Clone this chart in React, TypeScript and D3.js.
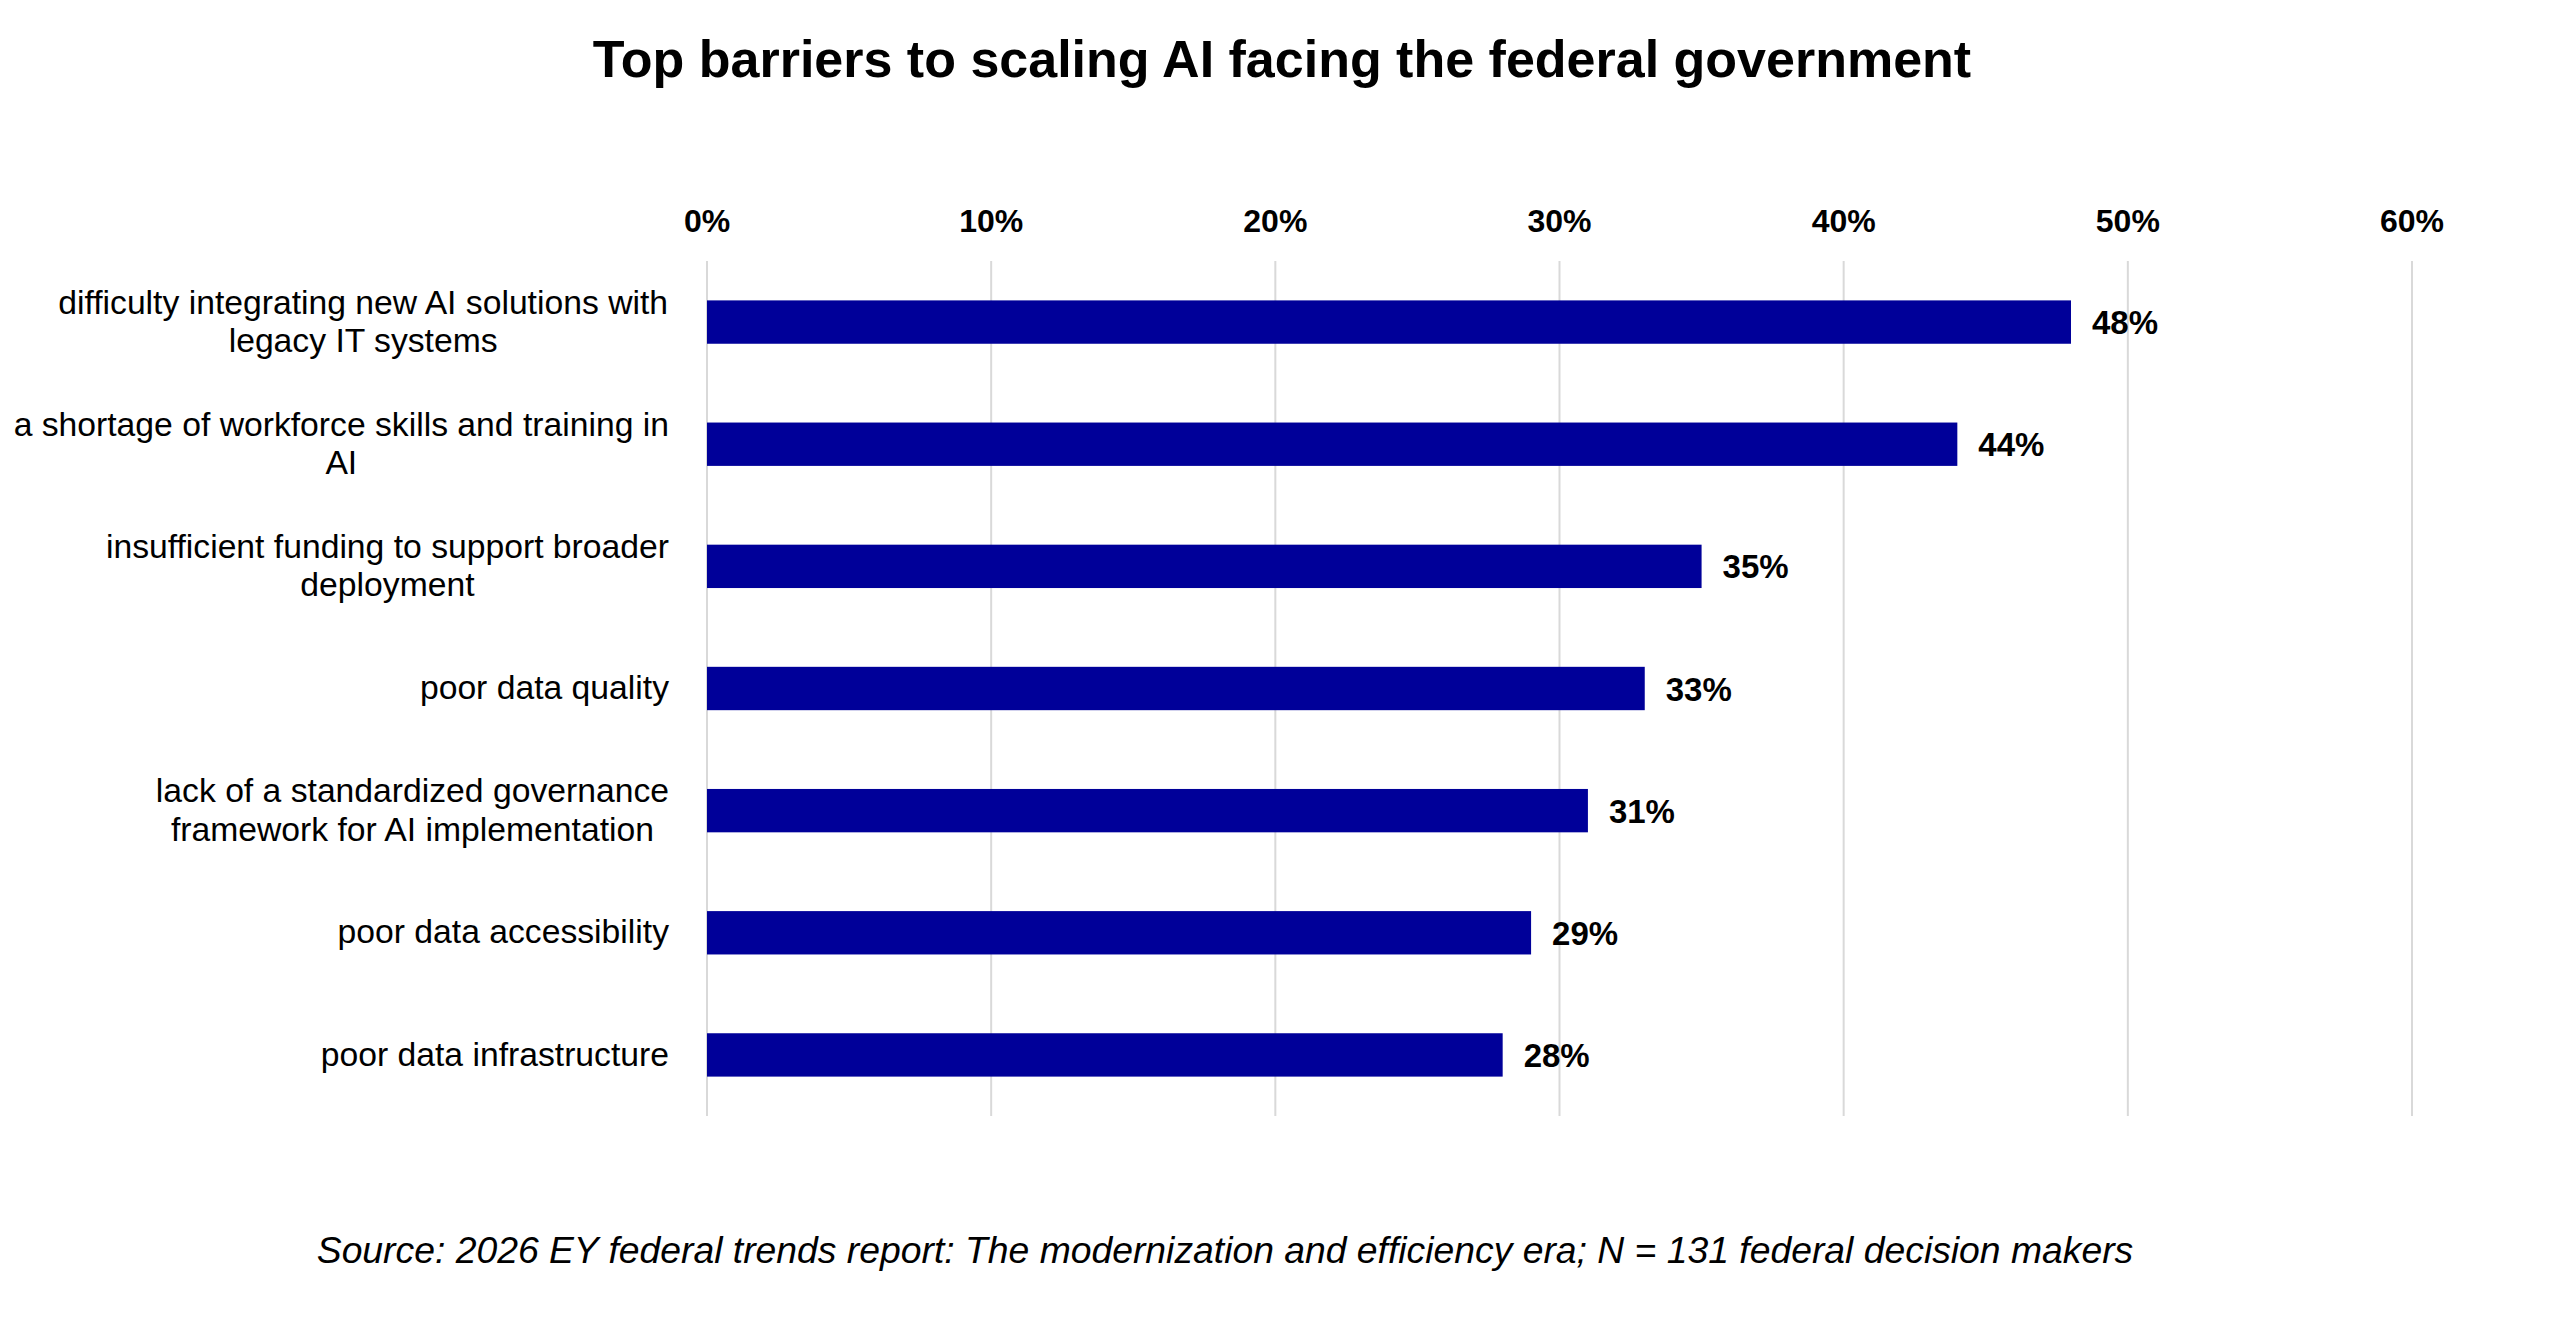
import React, { useMemo } from "react";
import * as d3 from "d3";

// chart data
const categories = [
  "difficulty integrating new AI solutions with\nlegacy IT systems",
  "a shortage of workforce skills and training in\nAI",
  "insufficient funding to support broader\ndeployment",
  "poor data quality",
  "lack of a standardized governance\nframework for AI implementation",
  "poor data accessibility",
  "poor data infrastructure",
];
const values = [48, 44, 35, 33, 31, 29, 28];
const xTicks = [0, 10, 20, 30, 40, 50, 60];

const title = "Top barriers to scaling AI facing the federal government";
const source =
  "Source: 2026 EY federal trends report: The modernization and efficiency era; N = 131 federal decision makers";

const FONT = "'Liberation Sans', Arial, Helvetica, sans-serif";
const W = 2560;
const H = 1335;
const margin = { top: 261, right: 148, bottom: 219, left: 707 };
const labelSize = 33.7;
const lineHeight = 38.4;

const App: React.FC = () => {
  const x = d3
    .scaleLinear()
    .domain([0, 60])
    .range([margin.left, W - margin.right]);

  const y = d3
    .scaleBand<string>()
    .domain(categories)
    .range([margin.top, H - margin.bottom])
    .paddingInner(0.645)
    .paddingOuter(0.3225);

  const fmt = (v: number) => `${v}%`;

  // width of each label block, so the lines can be centred inside a right-aligned block
  const blockWidths = useMemo(() => {
    const ctx = document.createElement("canvas").getContext("2d");
    if (!ctx) return categories.map(() => 0);
    ctx.font = `${labelSize}px ${FONT}`;
    return categories.map((c) =>
      d3.max(c.split("\n"), (l) => ctx.measureText(l).width) ?? 0
    );
  }, []);

  const labelRight = margin.left - 38;

  return (
    <svg
      width={W}
      height={H}
      style={{ position: "absolute", left: 0, top: 0, background: "#fff" }}
      fontFamily={FONT}
    >
      <rect width={W} height={H} fill="#fff" />

      <text
        x={1282}
        y={77}
        textAnchor="middle"
        fontSize={52}
        fontWeight="bold"
        fill="#000"
      >
        {title}
      </text>

      {/* gridlines + top axis labels */}
      <g>
        {xTicks.map((t) => (
          <g key={t}>
            <line
              x1={x(t)}
              x2={x(t)}
              y1={margin.top}
              y2={H - margin.bottom}
              stroke="#d9d9d9"
              strokeWidth={2}
            />
            <text
              x={x(t)}
              y={232}
              textAnchor="middle"
              fontSize={32}
              fontWeight="bold"
              fill="#000"
            >
              {fmt(t)}
            </text>
          </g>
        ))}
      </g>

      {/* bars */}
      <g>
        {categories.map((c, i) => (
          <rect
            key={c}
            x={x(0)}
            y={y(c)}
            width={x(values[i]) - x(0)}
            height={y.bandwidth()}
            fill="#000099"
          />
        ))}
      </g>

      {/* value labels */}
      <g>
        {categories.map((c, i) => (
          <text
            key={c}
            x={x(values[i]) + 21}
            y={(y(c) ?? 0) + y.bandwidth() / 2 + 12}
            fontSize={33}
            fontWeight="bold"
            fill="#000"
          >
            {fmt(values[i])}
          </text>
        ))}
      </g>

      {/* category labels */}
      <g>
        {categories.map((c, i) => {
          const lines = c.split("\n");
          const cy = (y(c) ?? 0) + y.bandwidth() / 2;
          const cx = labelRight - blockWidths[i] / 2;
          return (
            <text
              key={c}
              textAnchor="middle"
              fontSize={labelSize}
              fill="#000"
            >
              {lines.map((l, j) => (
                <tspan
                  key={j}
                  x={cx}
                  y={cy + 10.7 + (j - (lines.length - 1) / 2) * lineHeight}
                >
                  {l}
                </tspan>
              ))}
            </text>
          );
        })}
      </g>

      <text
        x={1225}
        y={1263}
        textAnchor="middle"
        fontSize={37.3}
        fontStyle="italic"
        fill="#000"
      >
        {source}
      </text>
    </svg>
  );
};

export default App;
